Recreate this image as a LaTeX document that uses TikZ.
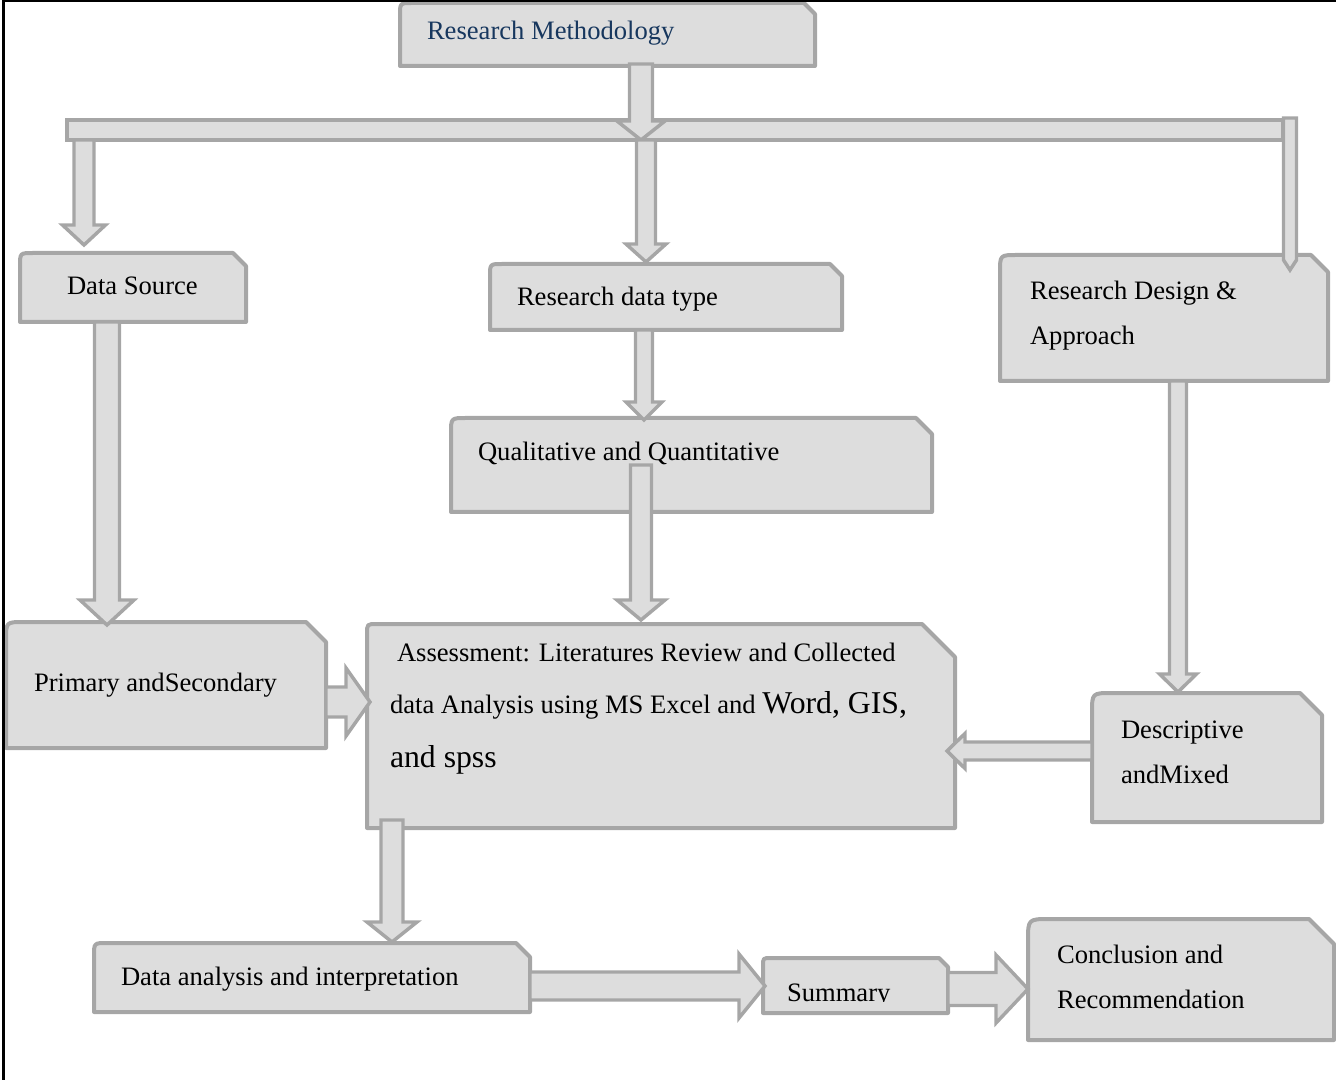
\documentclass[tikz,border=0pt]{standalone}
\usepackage{fontspec}
\setmainfont{Liberation Serif}
\usetikzlibrary{calc,fit}
\definecolor{boxfill}{HTML}{DDDDDD}
\definecolor{boxline}{HTML}{A6A6A6}
\definecolor{navy}{HTML}{17375E}
\tikzset{
  panelsty/.style={draw=boxline, fill=boxfill, line width=3pt, line join=round},
  blk/.style={draw=boxline, fill=boxfill, line width=2.6pt, line join=miter},
  txt/.style={anchor=base west, inner sep=0pt, outer sep=0pt, font=\fontsize{19.95}{24}\selectfont},
}
% name x1 y1 x2 y2 round chamfer
\newcommand\panel[7]{%
  \path (#2,#3) coordinate (#1-a) (#4,#5) coordinate (#1-b);
  \node[fit=(#1-a)(#1-b), inner sep=0pt, outer sep=0pt] (#1) {};
  \draw[panelsty] (#1.south west) -- ($(#1.north west)+(0,#6)$) .. controls (#1.north west) .. ($(#1.north west)+(#6,0)$) -- ($(#1.north east)+(-#7,0)$) -- ($(#1.north east)+(0,#7)$) -- (#1.south east) -- cycle;
}
% start, tip, shaft half, head half, head length (px)
\newcommand\arrD[5]{\draw[blk] let \p1=#1, \p2=#2 in
  (\x1-#3*0.75pt,\y1) -- (\x1-#3*0.75pt,\y2+#5*0.75pt) -- (\x1-#4*0.75pt,\y2+#5*0.75pt) -- (\x1,\y2)
  -- (\x1+#4*0.75pt,\y2+#5*0.75pt) -- (\x1+#3*0.75pt,\y2+#5*0.75pt) -- (\x1+#3*0.75pt,\y1) -- cycle;}
\newcommand\arrR[5]{\draw[blk] let \p1=#1, \p2=#2 in
  (\x1,\y1+#3*0.75pt) -- (\x2-#5*0.75pt,\y1+#3*0.75pt) -- (\x2-#5*0.75pt,\y1+#4*0.75pt) -- (\x2,\y1)
  -- (\x2-#5*0.75pt,\y1-#4*0.75pt) -- (\x2-#5*0.75pt,\y1-#3*0.75pt) -- (\x1,\y1-#3*0.75pt) -- cycle;}
\newcommand\arrL[5]{\draw[blk] let \p1=#1, \p2=#2 in
  (\x1,\y1+#3*0.75pt) -- (\x2+#5*0.75pt,\y1+#3*0.75pt) -- (\x2+#5*0.75pt,\y1+#4*0.75pt) -- (\x2,\y1)
  -- (\x2+#5*0.75pt,\y1-#4*0.75pt) -- (\x2+#5*0.75pt,\y1-#3*0.75pt) -- (\x1,\y1-#3*0.75pt) -- cycle;}

\begin{document}
\begin{tikzpicture}[x=0.75pt,y=-0.75pt]
\useasboundingbox (0,0) rectangle (1336,1080);

% boxes
\panel{rm}{400}{3}{815}{66}{12}{11}
\panel{ds}{20}{253}{246}{322}{13}{13}
\panel{rdt}{490}{264}{842}{330}{12}{12}
\panel{qq}{451}{418}{932}{512}{15}{16}
\panel{rda}{1000}{255}{1328}{381}{17}{17}
\panel{ps}{6}{622}{326}{748}{18}{20}
\panel{ass}{367}{624}{955}{828}{10}{33}
\panel{dm}{1092}{693}{1322}{822}{20}{22}
\panel{da}{94}{943}{530}{1012}{13}{14}
\panel{sum}{763}{958}{948}{1013}{8}{9}
\panel{cr}{1028}{919}{1334}{1040}{22}{25}

% distribution bar
\path (67,120) coordinate (bar-a) (1283,140) coordinate (bar-b);
\node[fit=(bar-a)(bar-b), inner sep=0pt, outer sep=0pt, draw=boxline, fill=boxfill, line width=2.6pt] (bar) {};

% texts
\node[txt, text=navy] (rm-t) at (427,40) {Research Methodology};
\node[txt] (ds-t) at (67,295) {Data Source};
\node[txt] (rdt-t) at (517,306) {Research data type};
\node[txt] (qq-t) at (478,461) {Qualitative and Quantitative};
\node[txt] (rda-t1) at (1030,300) {Research Design \&};
\node[txt] (rda-t2) at (1030,345) {Approach};
\node[txt] (ps-t) at (34,691) {Primary andSecondary};
\node[txt] (ass-t1) at (397,661) {Assessment: Literatures Review and Collected};
\node[txt] (ass-t2) at (390,713) {data Analysis using MS Excel and {\fontsize{23.8}{28}\selectfont Word, GIS,}};
\node[txt, font=\fontsize{23.8}{28}\selectfont] (ass-t3) at (390,767) {and spss};
\node[txt] (dm-t1) at (1121,738) {Descriptive};
\node[txt] (dm-t2) at (1121,783) {andMixed};
\node[txt] (da-t) at (121,985) {Data analysis and interpretation};
\begin{scope}
  \clip (763,958) rectangle (948,1001.5);
  \node[txt] (sum-t) at (787,1001) {Summary};
\end{scope}
\node[txt] (cr-t1) at (1057,963) {Conclusion and};
\node[txt] (cr-t2) at (1057,1008) {Recommendation};

% block arrows
\arrD{($(rm.south west)+(241,-2)$)}{($(bar.south west)+(574,0)$)}{11.5}{24}{19}
\arrD{($(bar.south west)+(579,0)$)}{($(rdt.north west)+(156,-2)$)}{9.5}{20}{18}
\arrD{($(bar.south west)+(17,0)$)}{($(ds.north west)+(64,-8)$)}{10}{21.5}{20}
\arrD{($(bar.north east)+(7,-2)$)}{($(rda.north east)+(-38,15)$)}{6.5}{6.5}{10}
\arrD{($(ds.south west)+(87,0)$)}{($(ps.north west)+(101,3)$)}{12.5}{27}{25}
\arrD{($(rdt.south west)+(154,0)$)}{($(qq.north west)+(193,2)$)}{8.5}{18}{18}
\arrD{($(qq.north west)+(190,47)$)}{($(ass.north west)+(274,-4)$)}{10.5}{24}{20}
\arrD{($(rda.south west)+(178,0)$)}{($(dm.north west)+(86,-1)$)}{8.5}{18.5}{18}
\arrR{($(ps.north east)+(0,80)$)}{($(ass.north west)+(3,0)$)}{15}{34}{24}
\arrL{($(dm.north west)+(0,58)$)}{($(ass.north east)+(-8,0)$)}{9}{17.5}{18}
\arrD{($(ass.south west)+(25,-8)$)}{($(da.north west)+(298,-1)$)}{11}{25}{20}
\arrR{($(da.north east)+(0,43)$)}{($(sum.north west)+(2,0)$)}{14}{32}{26}
\arrR{($(sum.north east)+(0,31)$)}{($(cr.north west)+(0,0)$)}{16.5}{34}{32}

% frame lines
\draw[black, line width=2.25pt] (3.5,1080) -- (3.5,1) -- (1336,1);
\end{tikzpicture}
\end{document}
